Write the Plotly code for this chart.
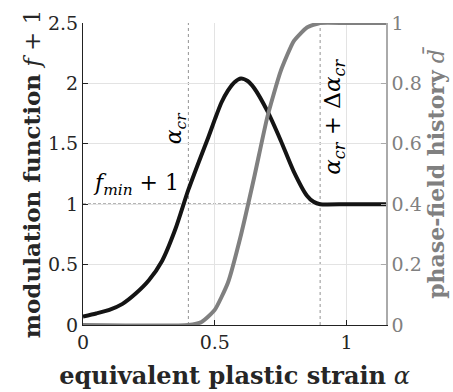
import plotly.graph_objects as go

# equivalent plastic strain samples
alpha_f = [0.0, 0.05, 0.1, 0.15, 0.2, 0.25, 0.3, 0.35, 0.4, 0.45, 0.475, 0.5, 0.525, 0.55,
           0.575, 0.6, 0.625, 0.65, 0.7, 0.75, 0.8, 0.85, 0.875, 0.9, 1.0, 1.15]
# modulation function f + 1
f_plus1 = [0.07, 0.095, 0.125, 0.175, 0.26, 0.37, 0.53, 0.79, 1.12, 1.41, 1.55, 1.70, 1.84, 1.94,
           2.01, 2.04, 2.02, 1.96, 1.77, 1.53, 1.27, 1.07, 1.02, 1.0, 1.0, 1.0]

alpha_d = [0.0, 0.4, 0.45, 0.5, 0.55, 0.6, 0.65, 0.7, 0.75, 0.8, 0.85, 0.9, 1.0, 1.15]
# phase-field history d-bar
d_hist = [0.0, 0.0, 0.01, 0.05, 0.14, 0.30, 0.49, 0.69, 0.84, 0.94, 0.985, 1.0, 1.0, 1.0]

ALPHA_CR = 0.4
DELTA_ALPHA_CR = 0.5
F_MIN_PLUS1 = 1.0

x_ticks = [0, 0.5, 1]
x_tick_text = ["0", "0.5", "1"]
y_ticks = [0, 0.5, 1, 1.5, 2, 2.5]
y_tick_text = ["0", "0.5", "1", "1.5", "2", "2.5"]
y2_ticks = [0, 0.2, 0.4, 0.6, 0.8, 1]
y2_tick_text = ["0", "0.2", "0.4", "0.6", "0.8", "1"]

FONT = "DejaVu Serif"
GRAY = "#808080"
TICK = 19
XTITLE = 24
YTITLE = 23
Y2TITLE = 22
ANN = 22

fig = go.Figure()
fig.add_trace(go.Scatter(x=alpha_f, y=f_plus1, mode="lines",
                         line=dict(color="#141414", width=4, shape="spline", smoothing=0.6),
                         showlegend=False))
fig.add_trace(go.Scatter(x=alpha_d, y=d_hist, mode="lines", yaxis="y2",
                         line=dict(color=GRAY, width=4, shape="spline", smoothing=0.5),
                         showlegend=False))

# reference lines
for xv in [ALPHA_CR, ALPHA_CR + DELTA_ALPHA_CR]:
    fig.add_shape(type="line", x0=xv, x1=xv, y0=0, y1=1, xref="x", yref="paper",
                  line=dict(color="#777777", width=0.8, dash="dot"), layer="below")
fig.add_shape(type="line", x0=0, x1=ALPHA_CR + DELTA_ALPHA_CR, y0=F_MIN_PLUS1, y1=F_MIN_PLUS1,
              xref="x", yref="y", line=dict(color="#111111", width=1, dash="3px,2px"), layer="below")

fig.add_annotation(x=ALPHA_CR - 0.05, y=1.63, text="<i>α<sub>cr</sub></i>", textangle=-90,
                   showarrow=False, font=dict(family=FONT, size=ANN, color="black"))
fig.add_annotation(x=0.2, y=1.16, text="<i>f<sub>min</sub></i> + 1",
                   showarrow=False, font=dict(family=FONT, size=ANN, color="black"))
fig.add_annotation(x=ALPHA_CR + DELTA_ALPHA_CR + 0.055, y=1.72,
                   text="<i>α<sub>cr</sub></i> + Δ<i>α<sub>cr</sub></i>", textangle=-90,
                   showarrow=False, font=dict(family=FONT, size=ANN + 1, color="black"))

fig.update_layout(
    width=453, height=392,
    margin=dict(l=83, r=67, t=23, b=67, autoexpand=False),
    paper_bgcolor="white", plot_bgcolor="white",
    font=dict(family=FONT, size=TICK, color="#262626"),
    xaxis=dict(range=[0, 1.15], tickvals=x_ticks, ticktext=x_tick_text, automargin=False,
               showgrid=True, gridcolor="#e3e3e3", gridwidth=1,
               showline=True, linecolor="#222222", linewidth=1.2,
               ticks="inside", ticklen=5, tickcolor="#222222", zeroline=False,
               tickfont=dict(family=FONT, size=TICK, color="#262626"),
               title=dict(text="<b>equivalent plastic strain</b> <i>α</i>",
                          font=dict(family=FONT, size=XTITLE, color="#262626"), standoff=15)),
    yaxis=dict(range=[0, 2.5], tickvals=y_ticks, ticktext=y_tick_text, automargin=False,
               showgrid=True, gridcolor="#e3e3e3", gridwidth=1,
               showline=True, linecolor="#222222", linewidth=1.2,
               ticks="inside", ticklen=5, tickcolor="#222222", zeroline=False,
               tickfont=dict(family=FONT, size=TICK, color="#262626"),
               title=dict(text="<b>modulation function</b> <i>f</i> + 1",
                          font=dict(family=FONT, size=YTITLE, color="#262626"), standoff=0)),
    yaxis2=dict(range=[0, 1], overlaying="y", side="right", tickvals=y2_ticks, automargin=False,
                ticktext=y2_tick_text, showgrid=False,
                showline=True, linecolor="#aaaaaa", linewidth=1.5,
                ticks="inside", ticklen=5, tickcolor="#aaaaaa", zeroline=False,
                tickfont=dict(family=FONT, size=TICK, color=GRAY),
                title=dict(text="<b>phase-field history</b> <i>d̄</i>",
                           font=dict(family=FONT, size=Y2TITLE, color=GRAY), standoff=8)),
)

fig.write_html("out.html")
